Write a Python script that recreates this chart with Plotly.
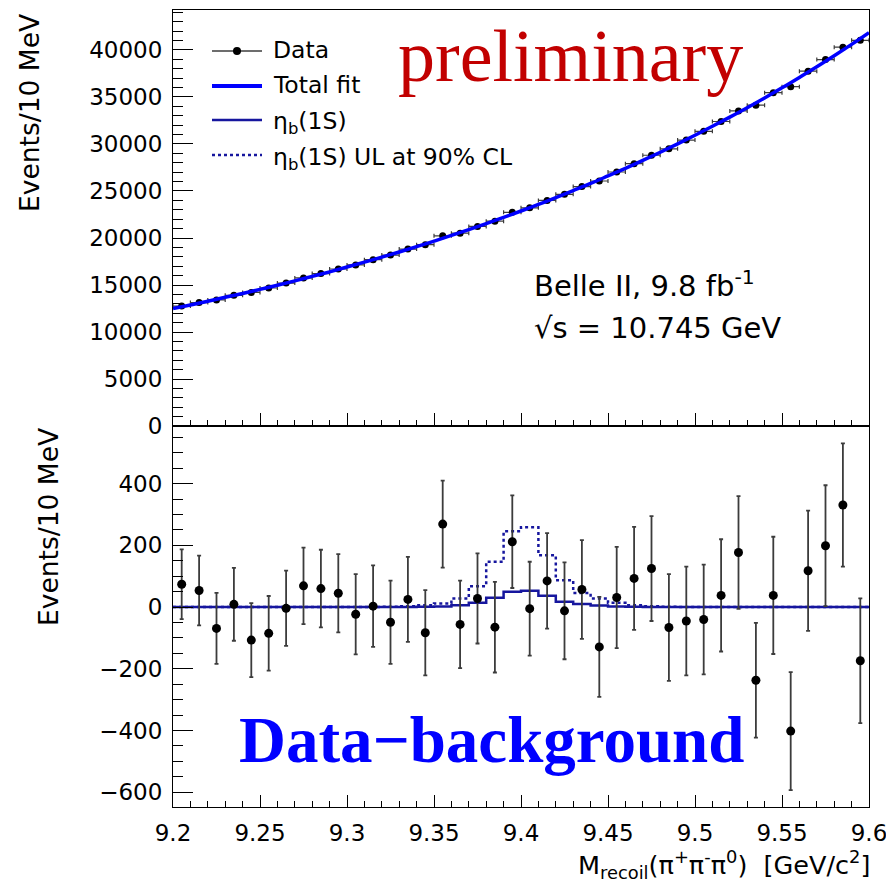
import plotly.graph_objects as go

# ---------------- data ----------------
bin_edges = [round(9.20 + 0.01 * i, 2) for i in range(41)]
bin_centers = [round(9.205 + 0.01 * i, 3) for i in range(40)]

data_counts = [12760, 13130, 13410, 13900, 14210, 14680, 15210, 15750, 16220, 16700,
               17140, 17690, 18180, 18820, 19290, 20230, 20510, 21230, 21790, 22730,
               23210, 24000, 24650, 25470, 26060, 27020, 27910, 28800, 29480, 30420,
               31350, 32390, 33520, 34130, 35460, 36100, 37740, 38980, 40300, 41020]

fit_total = [12500, 12880, 13280, 13690, 14100, 14540, 14980, 15440, 15920, 16400,
             16910, 17430, 17960, 18510, 19080, 19660, 20270, 20890, 21530, 22190,
             22870, 23570, 24290, 25040, 25800, 26600, 27410, 28250, 29120, 30010,
             30930, 31880, 32860, 33860, 34900, 35970, 37080, 38210, 39380, 40590, 41840]

residuals = [74, 54, -69, 9, -107, -85, -4, 69, 60, 45,
             -23, 3, -49, 25, -83, 269, -56, 28, -65, 212,
             -5, 85, -12, 57, -129, 31, 93, 125, -66, -45,
             -40, 38, 177, -237, 38, -402, 118, 199, 331, -174]

errors = [113, 113, 115, 118, 120, 121, 122, 124, 126, 127,
          130, 132, 135, 138, 138, 141, 142, 146, 147, 150,
          152, 155, 157, 160, 162, 164, 167, 170, 173, 176,
          178, 182, 183, 186, 190, 191, 195, 196, 200, 202]

signal = [0, 0, 0, 0, 0, 0, 0, 0, 0, 0,
          0, 0, 0, 0, 1, 2, 6, 14, 30, 50,
          53, 37, 17, 10, 5, 2, 1, 0, 0, 0,
          0, 0, 0, 0, 0, 0, 0, 0, 0, 0]

signal_ul = [0, 0, 0, 0, 0, 0, 0, 0, 0, 0,
             0, 0, 1, 3, 6, 12, 28, 68, 147, 246,
             259, 168, 87, 46, 28, 14, 6, 3, 1, 0,
             0, 0, 0, 0, 0, 0, 0, 0, 0, 0]

x_ticks = [9.2, 9.25, 9.3, 9.35, 9.4, 9.45, 9.5, 9.55, 9.6]

# ---------------- style ----------------
SANS = "DejaVu Sans"
SERIF = "Liberation Serif"
BLUE = "#0000ff"
DARKBLUE = "#16169e"
ERRC = "#3c3c3c"

W, H = 886, 882
ML, MR, MT, MB = 173, 17, 10, 75
PW = W - ML - MR
PH = H - MT - MB
SPLIT = 0.478


def px_x(p):
    return (p - ML) / PW


def px_y(p):
    return (H - MB - p) / PH


fig = go.Figure()

# top panel: data
fig.add_trace(go.Scatter(
    x=bin_centers, y=data_counts, mode="markers",
    marker=dict(color="black", size=7),
    error_x=dict(type="constant", value=0.005, color=ERRC, thickness=1.2, width=2),
    error_y=dict(type="data", array=errors, color=ERRC, thickness=1.2, width=2),
    xaxis="x", yaxis="y", showlegend=False, hoverinfo="skip"))

# top panel: total fit
fig.add_trace(go.Scatter(
    x=bin_edges, y=fit_total, mode="lines",
    line=dict(color=BLUE, width=3.5, shape="spline"),
    xaxis="x", yaxis="y", showlegend=False, hoverinfo="skip"))

# bottom panel: UL histogram (dotted)
fig.add_trace(go.Scatter(
    x=bin_edges, y=signal_ul + [signal_ul[-1]], mode="lines",
    line=dict(color=DARKBLUE, width=2.5, dash="dot", shape="hv"),
    xaxis="x2", yaxis="y2", showlegend=False, hoverinfo="skip"))

# bottom panel: signal histogram (solid)
fig.add_trace(go.Scatter(
    x=bin_edges, y=signal + [signal[-1]], mode="lines",
    line=dict(color=DARKBLUE, width=2.5, shape="hv"),
    xaxis="x2", yaxis="y2", showlegend=False, hoverinfo="skip"))

# bottom panel: data - background
fig.add_trace(go.Scatter(
    x=bin_centers, y=residuals, mode="markers",
    marker=dict(color="black", size=9),
    error_y=dict(type="data", array=errors, color=ERRC, thickness=1.8, width=2),
    xaxis="x2", yaxis="y2", showlegend=False, hoverinfo="skip"))

tickfont = dict(family=SANS, size=23, color="black")

common_x = dict(range=[9.2, 9.6], tickvals=x_ticks, ticks="inside", tickcolor="black",
                tickwidth=1, showline=True, mirror=True, linecolor="black", linewidth=1,
                showgrid=False, zeroline=False, tickfont=tickfont, automargin=False,
                ticklabeloverflow="allow",
                minor=dict(dtick=0.01, tick0=9.2, ticks="inside", ticklen=6, tickcolor="black"))

fig.update_layout(
    width=W, height=H,
    margin=dict(l=ML, r=MR, t=MT, b=MB, autoexpand=False),
    paper_bgcolor="white", plot_bgcolor="white",
    xaxis=dict(common_x, anchor="y", domain=[0, 1], showticklabels=False, ticklen=13,
               matches="x2"),
    xaxis2=dict(common_x, anchor="y2", domain=[0, 1], ticklen=12, ticklabelstandoff=5),
    yaxis=dict(domain=[SPLIT, 1], range=[0, 44250], dtick=5000, tick0=0, tickformat="d",
               ticks="inside", ticklen=20, tickcolor="black", tickwidth=1, automargin=False,
               showline=True, mirror=True, linecolor="black", linewidth=1,
               showgrid=False, zeroline=False, tickfont=tickfont, ticklabelstandoff=5,
               minor=dict(dtick=1000, tick0=0, ticks="inside", ticklen=10, tickcolor="black")),
    yaxis2=dict(domain=[0, SPLIT], range=[-648, 587], dtick=200, tick0=0, tickformat="d",
                ticks="inside", ticklen=20, tickcolor="black", tickwidth=1, automargin=False,
                showline=True, mirror=True, linecolor="black", linewidth=1,
                showgrid=False, zeroline=False, tickfont=tickfont, ticklabelstandoff=5,
                minor=dict(dtick=50, tick0=0, ticks="inside", ticklen=10, tickcolor="black")),
)

ann = []
# axis titles
ann.append(dict(text="Events/10 MeV", x=px_x(30), y=px_y(113), xref="paper", yref="paper",
                textangle=-90, showarrow=False, xanchor="center", yanchor="middle",
                font=dict(family=SANS, size=26.5, color="black")))
ann.append(dict(text="Events/10 MeV", x=px_x(48), y=px_y(527), xref="paper", yref="paper",
                textangle=-90, showarrow=False, xanchor="center", yanchor="middle",
                font=dict(family=SANS, size=26.5, color="black")))
ann.append(dict(text="M<sub>recoil</sub>(\u03c0<sup>+</sup>\u03c0<sup>-</sup>\u03c0<sup>0</sup>)  [GeV/c<sup>2</sup>]",
                x=px_x(872), y=px_y(864), xref="paper", yref="paper", showarrow=False,
                xanchor="right", yanchor="middle",
                font=dict(family=SANS, size=25.5, color="black")))
# big labels
ann.append(dict(text="preliminary", x=px_x(570), y=px_y(56), xref="paper", yref="paper",
                showarrow=False, xanchor="center", yanchor="middle",
                font=dict(family=SERIF, size=74, color="#c20000")))
ann.append(dict(text="<b>Data\u2212background</b>", x=px_x(491), y=px_y(740), xref="paper",
                yref="paper", showarrow=False, xanchor="center", yanchor="middle",
                font=dict(family=SERIF, size=65, color=BLUE)))
# experiment labels
ann.append(dict(text="Belle II, 9.8 fb<sup>-1</sup>", x=px_x(532), y=px_y(284), xref="paper",
                yref="paper", showarrow=False, xanchor="left", yanchor="middle",
                font=dict(family=SANS, size=29, color="black")))
ann.append(dict(text="\u221as = 10.745 GeV", x=px_x(532), y=px_y(328), xref="paper",
                yref="paper", showarrow=False, xanchor="left", yanchor="middle",
                font=dict(family=SANS, size=29, color="black")))

# legend (manual)
leg_rows = [51, 86, 120, 155]
leg_text = ["Data", "Total fit", "\u03b7<sub>b</sub>(1S)", "\u03b7<sub>b</sub>(1S) UL at 90% CL"]
leg_dy = [0, 0, 4, 4]
for r, t, d in zip(leg_rows, leg_text, leg_dy):
    ann.append(dict(text=t, x=px_x(271), y=px_y(r - 1 + d), xref="paper", yref="paper",
                    showarrow=False, xanchor="left", yanchor="middle",
                    font=dict(family=SANS, size=23.5, color="black")))

shapes = []
x0, x1 = px_x(212), px_x(262)
shapes.append(dict(type="line", xref="paper", yref="paper", x0=x0, x1=x1,
                   y0=px_y(leg_rows[0]), y1=px_y(leg_rows[0]), line=dict(color=ERRC, width=1.3)))
shapes.append(dict(type="circle", xref="paper", yref="paper", x0=px_x(233), x1=px_x(241),
                   y0=px_y(leg_rows[0] + 4), y1=px_y(leg_rows[0] - 4),
                   fillcolor="black", line=dict(color="black", width=0)))
shapes.append(dict(type="line", xref="paper", yref="paper", x0=x0, x1=x1,
                   y0=px_y(leg_rows[1]), y1=px_y(leg_rows[1]), line=dict(color=BLUE, width=4)))
shapes.append(dict(type="line", xref="paper", yref="paper", x0=x0, x1=x1,
                   y0=px_y(leg_rows[2]), y1=px_y(leg_rows[2]), line=dict(color=DARKBLUE, width=2.5)))
shapes.append(dict(type="line", xref="paper", yref="paper", x0=x0, x1=x1,
                   y0=px_y(leg_rows[3]), y1=px_y(leg_rows[3]),
                   line=dict(color=DARKBLUE, width=2.5, dash="dot")))

fig.update_layout(annotations=ann, shapes=shapes)

fig.write_html("out.html")
